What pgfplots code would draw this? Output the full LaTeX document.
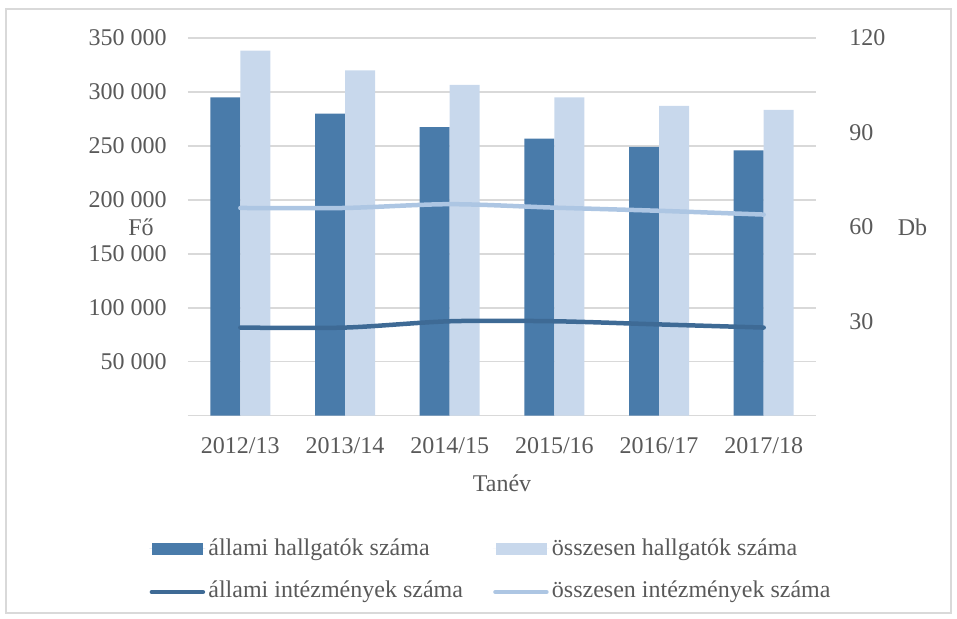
\documentclass[border=0pt,12pt]{standalone}
\usepackage{fontspec}
\setmainfont{Liberation Serif}
\usepackage{pgfplots}
\pgfplotsset{compat=1.18}

\definecolor{allamibar}{HTML}{497BAA}
\definecolor{osszbar}{HTML}{C8D8EC}
\definecolor{allamiline}{HTML}{3E6A95}
\definecolor{osszline}{HTML}{ADC6E3}
\definecolor{gridgray}{HTML}{D9D9D9}
\definecolor{textgray}{HTML}{595959}

\pgfplotsset{
  barlegend/.style={legend image code/.code={\fill[##1] (1.5pt,-3pt) rectangle (27pt,3pt); \path (0pt,0pt) -- (28pt,0pt);}},
  linelegend/.style={legend image code/.code={\draw[##1, line cap=round] (1.25pt,0pt) -- (26.75pt,0pt);}},
  common/.style={
    width=314pt, height=188.85pt, scale only axis,
    xmin=-0.5, xmax=5.5, ymin=0,
    major tick length=0pt,
    scaled y ticks=false,
  },
}

\begin{document}
\color{textgray}
\begin{tikzpicture}[font=\fontsize{12}{14.4}\selectfont]
\path[use as bounding box] (-94pt,-101.65pt) rectangle (384.5pt,207.85pt);
\draw[gridgray, line width=0.6pt] (-91pt,-98.65pt) rectangle (381.5pt,203.35pt);

% bal tengely: hallgatók (fő)
\begin{axis}[common,
  ymax=350000,
  ybar=0pt, bar width=15pt,
  xtick={0,...,5},
  xticklabels={2012/13,2013/14,2014/15,2015/16,2016/17,2017/18},
  ytick={50000,100000,150000,200000,250000,300000,350000},
  yticklabels={50 000,100 000,150 000,200 000,250 000,300 000,350 000},
  axis x line*=bottom, axis y line*=left,
  y axis line style={draw=none},
  x axis line style={draw=gridgray, line width=0.75pt, -},
  ymajorgrids, grid style={gridgray, line width=0.75pt},
  yticklabel style={inner sep=0pt, xshift=-10.5pt},
  xticklabel style={inner sep=0pt, yshift=-10.5pt},
  xlabel={Tanév},
  every axis x label/.style={at={(rel axis cs:0.5,0)}, anchor=center, yshift=-33.65pt},
  ylabel={Fő},
  every axis y label/.style={at={(rel axis cs:0,0.5)}, anchor=center, xshift=-23.5pt},
]
\addplot[fill=allamibar, draw=none] coordinates {
  (0,295000) (1,280000) (2,267500) (3,256700) (4,249000) (5,245800)
};
\addplot[fill=osszbar, draw=none] coordinates {
  (0,338300) (1,320000) (2,306500) (3,295000) (4,287000) (5,283300)
};
\end{axis}

% jobb tengely: intézmények (db)
\begin{axis}[common,
  ymax=120,
  ytick={30,60,90,120},
  yticklabels={30,60,90,120},
  axis y line*=right, axis x line=none,
  y axis line style={draw=none},
  yticklabel style={inner sep=0pt, xshift=16.5pt},
  ylabel={Db},
  every axis y label/.style={at={(rel axis cs:1,0.5)}, anchor=center, xshift=48.25pt},
  legend columns=2,
  legend cell align=left,
  legend style={draw=none, fill=none, inner sep=0pt,
    at={(rel axis cs:0,0)}, anchor=north west, xshift=-19.5pt, yshift=-60.45pt,
    row sep=9.5pt,
    nodes={inner sep=0pt, text height=9pt, text depth=3pt},
    /tikz/every odd column/.append style={column sep=1.5pt},
    /tikz/every even column/.append style={column sep=15pt}},
]
\addlegendimage{barlegend, fill=allamibar, draw=none}
\addlegendentry{állami hallgatók száma}
\addlegendimage{barlegend, fill=osszbar, draw=none}
\addlegendentry{összesen hallgatók száma}
\addplot[allamiline, line width=2.25pt, smooth, line cap=round, linelegend] coordinates {
  (0,28) (1,28) (2,30) (3,30) (4,29) (5,28)
};
\addlegendentry{állami intézmények száma}
\addplot[osszline, line width=2.25pt, smooth, line cap=round, linelegend] coordinates {
  (0,66) (1,66) (2,67.2) (3,66.1) (4,65.1) (5,63.9)
};
\addlegendentry{összesen intézmények száma}
\end{axis}
\end{tikzpicture}
\end{document}
